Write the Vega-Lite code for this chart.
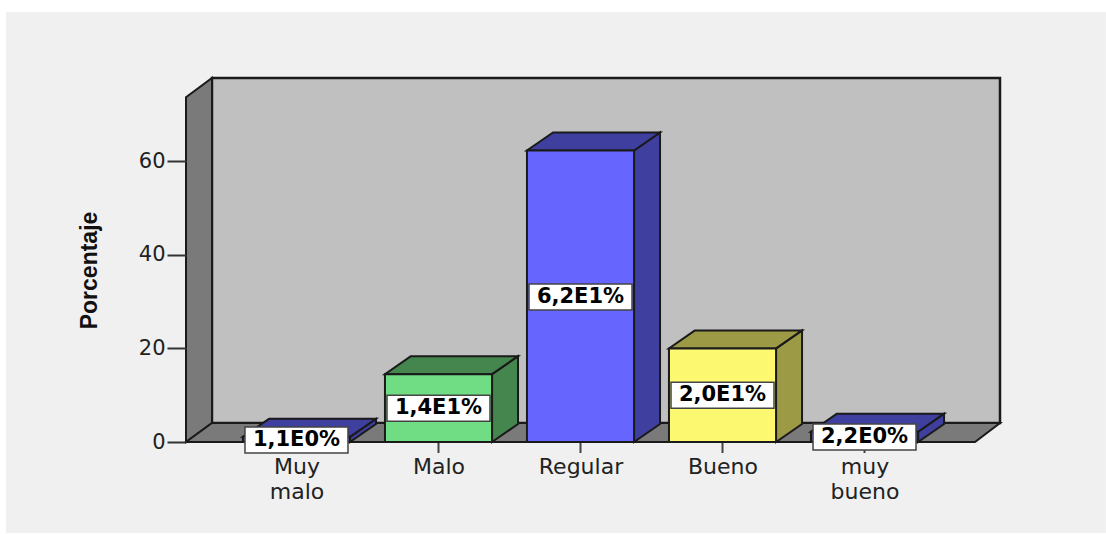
{
"$schema":"https://vega.github.io/schema/vega-lite/v6.json",
"width":814,"height":364,
"autosize":{"type":"none"},
"padding":{"left":186,"top":78,"right":106,"bottom":92},
"background":"#ffffff",
"view":{"stroke":null},
"datasets":{
"panel":[{"xa":-2.046,"xb":5.70,"ya":-19.44,"yb":91.9}],
"wall":[{"xa":-0.595,"xb":4.954,"ya":4.06,"yb":77.8}],
"leftwall":[{"x":-0.778,"low":0,"high":73.7},{"x":-0.595,"low":4.06,"high":77.8}],
"floor":[{"y":0,"xa":-0.778,"xb":4.778},{"y":4.06,"xa":-0.595,"xb":4.954}],
"sides":[
{"cat":"Muy malo","x":0.377,"low":0,"high":1.1},{"cat":"Muy malo","x":0.56,"low":3.85,"high":4.95},
{"cat":"Malo","x":1.377,"low":0,"high":14.5},{"cat":"Malo","x":1.56,"low":3.85,"high":18.35},
{"cat":"Regular","x":2.377,"low":0,"high":62.3},{"cat":"Regular","x":2.56,"low":3.85,"high":66.15},
{"cat":"Bueno","x":3.377,"low":0,"high":20},{"cat":"Bueno","x":3.56,"low":3.85,"high":23.85},
{"cat":"muy bueno","x":4.377,"low":0,"high":2.2},{"cat":"muy bueno","x":4.56,"low":3.85,"high":6.05}],
"tops":[
{"cat":"Muy malo","y":1.1,"xa":-0.377,"xb":0.377},{"cat":"Muy malo","y":4.95,"xa":-0.194,"xb":0.56},
{"cat":"Malo","y":14.5,"xa":0.623,"xb":1.377},{"cat":"Malo","y":18.35,"xa":0.806,"xb":1.56},
{"cat":"Regular","y":62.3,"xa":1.623,"xb":2.377},{"cat":"Regular","y":66.15,"xa":1.806,"xb":2.56},
{"cat":"Bueno","y":20,"xa":2.623,"xb":3.377},{"cat":"Bueno","y":23.85,"xa":2.806,"xb":3.56},
{"cat":"muy bueno","y":2.2,"xa":3.623,"xb":4.377},{"cat":"muy bueno","y":6.05,"xa":3.806,"xb":4.56}],
"bars":[
{"cat":"Muy malo","pos":0,"xa":-0.377,"xb":0.377,"val":1.1,"zero":0,"tickEnd":-2.35,"label":"1,1E0%","labelY":0.43},
{"cat":"Malo","pos":1,"xa":0.623,"xb":1.377,"val":14.5,"zero":0,"tickEnd":-2.35,"label":"1,4E1%","labelY":7.2},
{"cat":"Regular","pos":2,"xa":1.623,"xb":2.377,"val":62.3,"zero":0,"tickEnd":-2.35,"label":"6,2E1%","labelY":31},
{"cat":"Bueno","pos":3,"xa":2.623,"xb":3.377,"val":20,"zero":0,"tickEnd":-2.35,"label":"2,0E1%","labelY":10},
{"cat":"muy bueno","pos":4,"xa":3.623,"xb":4.377,"val":2.2,"zero":0,"tickEnd":-2.35,"label":"2,2E0%","labelY":1.07}]
},
"layer":[
{"data":{"name":"panel"},"mark":{"type":"rect","fill":"#f0f0f0"},
 "encoding":{
  "x":{"field":"xa","type":"quantitative","scale":{"domain":[-0.778,4.954],"nice":false,"zero":false},
   "axis":{"values":[0,1,2,3,4],"title":null,"grid":false,"domain":false,"ticks":false,"zindex":1,"labelPadding":14,"labelFont":"DejaVu Sans","labelFontSize":22,"labelColor":"#222222","labelLineHeight":25,"labelBaseline":"top","labelFlush":false,"labelOverlap":false,
   "labelExpr":"datum.value==0?['Muy','malo']:datum.value==1?'Malo':datum.value==2?'Regular':datum.value==3?'Bueno':['muy','bueno']"}},
  "x2":{"field":"xb"},
  "y":{"field":"ya","type":"quantitative","scale":{"domain":[0,77.8],"nice":false,"zero":false},
   "axis":{"values":[0,20,40,60],"title":"Porcentaje","grid":false,"domain":false,"zindex":1,"tickSize":19,"tickColor":"#333333","tickWidth":2,"labelPadding":2,"labelFont":"DejaVu Sans","labelFontSize":21,"labelColor":"#222222","titleFont":"Liberation Sans","titleFontSize":23,"titleFontWeight":"bold","titleColor":"#111111","titleX":-85,"titleY":192}},
  "y2":{"field":"yb"}}},
{"data":{"name":"bars"},"mark":{"type":"rule","color":"#444444","strokeWidth":2},
 "encoding":{"x":{"field":"pos","type":"quantitative"},"y":{"field":"zero","type":"quantitative"},"y2":{"field":"tickEnd"}}},
{"data":{"name":"wall"},"mark":{"type":"rect","fill":"#c0c0c0","stroke":"#1a1a1a","strokeWidth":2.5},
 "encoding":{"x":{"field":"xa","type":"quantitative"},"x2":{"field":"xb"},"y":{"field":"ya","type":"quantitative"},"y2":{"field":"yb"}}},
{"data":{"name":"leftwall"},"mark":{"type":"area","fill":"#7a7a7a","stroke":"#1a1a1a","strokeWidth":2,"opacity":1},
 "encoding":{"x":{"field":"x","type":"quantitative"},"y":{"field":"low","type":"quantitative"},"y2":{"field":"high"}}},
{"data":{"name":"floor"},"mark":{"type":"area","orient":"horizontal","fill":"#7a7a7a","stroke":"#1a1a1a","strokeWidth":2,"opacity":1},
 "encoding":{"y":{"field":"y","type":"quantitative"},"x":{"field":"xa","type":"quantitative"},"x2":{"field":"xb"}}},
{"data":{"name":"sides"},"mark":{"type":"area","stroke":"#1a1a1a","strokeWidth":2,"opacity":1},
 "encoding":{"x":{"field":"x","type":"quantitative"},"y":{"field":"low","type":"quantitative"},"y2":{"field":"high"},
  "color":{"field":"cat","type":"nominal","legend":null,"scale":{"domain":["Muy malo","Malo","Regular","Bueno","muy bueno"],"range":["#3f3f9f","#44864e","#3f3f9f","#9c9a45","#3f3f9f"]}}}},
{"data":{"name":"tops"},"mark":{"type":"area","orient":"horizontal","stroke":"#1a1a1a","strokeWidth":2,"opacity":1},
 "encoding":{"y":{"field":"y","type":"quantitative"},"x":{"field":"xa","type":"quantitative"},"x2":{"field":"xb"},
  "color":{"field":"cat","type":"nominal","legend":null,"scale":{"domain":["Muy malo","Malo","Regular","Bueno","muy bueno"],"range":["#3f3f9f","#44864e","#3f3f9f","#9c9a45","#3f3f9f"]}}}},
{"data":{"name":"bars"},"mark":{"type":"rect","stroke":"#1a1a1a","strokeWidth":2},
 "encoding":{"x":{"field":"xa","type":"quantitative"},"x2":{"field":"xb"},"y":{"field":"zero","type":"quantitative"},"y2":{"field":"val"},
  "fill":{"field":"cat","type":"nominal","legend":null,"scale":{"domain":["Muy malo","Malo","Regular","Bueno","muy bueno"],"range":["#6666ff","#70dc84","#6666ff","#fcf870","#6666ff"]}}}},
{"data":{"name":"bars"},"mark":{"type":"rect","width":103,"height":26,"fill":"#ffffff","stroke":"#444444","strokeWidth":1.5},
 "encoding":{"x":{"field":"pos","type":"quantitative"},"y":{"field":"labelY","type":"quantitative"}}},
{"data":{"name":"bars"},"mark":{"type":"text","font":"DejaVu Sans","fontWeight":"bold","fontSize":21,"color":"#000000","baseline":"middle","align":"center"},
 "encoding":{"x":{"field":"pos","type":"quantitative"},"y":{"field":"labelY","type":"quantitative"},"text":{"field":"label"}}}
],
"resolve":{"scale":{"color":"independent"}}
}
